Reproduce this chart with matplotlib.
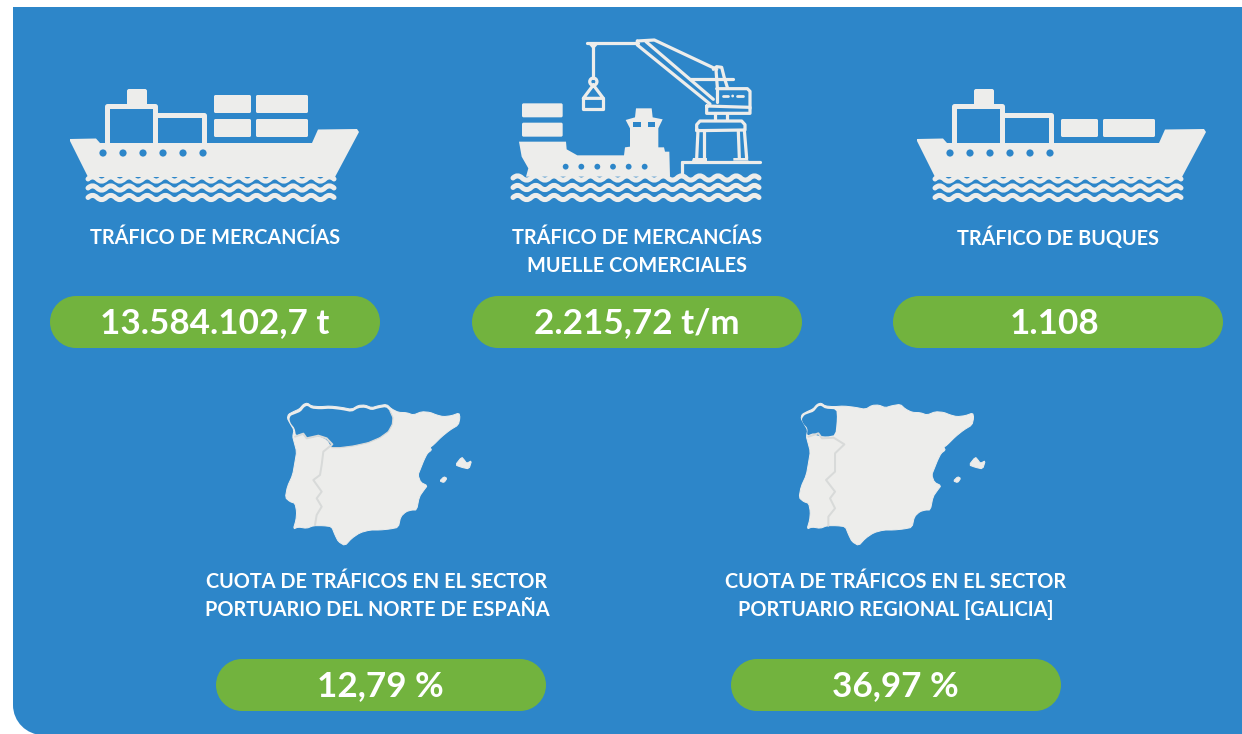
import matplotlib
matplotlib.use("Agg")
import matplotlib.pyplot as plt
from matplotlib.patches import PathPatch, Polygon, Circle, Rectangle
from matplotlib.path import Path

# ---- content ----
top_labels = [["TRÁFICO DE MERCANCÍAS"],
              ["TRÁFICO DE MERCANCÍAS", "MUELLE COMERCIALES"],
              ["TRÁFICO DE BUQUES"]]
top_values = ["13.584.102,7 t", "2.215,72 t/m", "1.108"]
bottom_labels = [["CUOTA DE TRÁFICOS EN EL SECTOR", "PORTUARIO DEL NORTE DE ESPAÑA"],
                 ["CUOTA DE TRÁFICOS EN EL SECTOR", "PORTUARIO REGIONAL [GALICIA]"]]
bottom_values = ["12,79 %", "36,97 %"]

BLUE = "#2d86c9"
GREEN = "#72b33e"
LIGHT = "#ededeb"
BORDER = "#d8dad9"
FONT = "Lato"

fig = plt.figure(figsize=(12.42, 7.34), dpi=100, facecolor="white")
ax = fig.add_axes([0, 0, 1, 1])
ax.set_xlim(0, 1242)
ax.set_ylim(734, 0)
ax.axis("off")
PX = 0.72


def chaikin(pts, rounds=1):
    for _ in range(rounds):
        out = []
        n = len(pts)
        for i in range(n):
            (x0, y0), (x1, y1) = pts[i], pts[(i + 1) % n]
            out.append((0.8 * x0 + 0.2 * x1, 0.8 * y0 + 0.2 * y1))
            out.append((0.2 * x0 + 0.8 * x1, 0.2 * y0 + 0.8 * y1))
        pts = out
    return pts


def stroke(pts, w=3.0, c=LIGHT, close=False, z=4):
    xs = [p[0] for p in pts]
    ys = [p[1] for p in pts]
    if close:
        xs.append(xs[0])
        ys.append(ys[0])
    ax.plot(xs, ys, color=c, lw=w * PX, solid_capstyle="round",
            solid_joinstyle="round", zorder=z)


def fill(pts, c=LIGHT, z=3, lw=0.0, ec=None):
    ax.add_patch(Polygon(pts, closed=True, fc=c, ec=ec or c, lw=lw * PX,
                         joinstyle="round", zorder=z))


def rrect(x0, y0, x1, y1, r, c=LIGHT, z=3):
    k = r * 0.448
    verts = [(x0 + r, y0), (x1 - r, y0),
             (x1 - k, y0), (x1, y0 + k), (x1, y0 + r),
             (x1, y1 - r),
             (x1, y1 - k), (x1 - k, y1), (x1 - r, y1),
             (x0 + r, y1),
             (x0 + k, y1), (x0, y1 - k), (x0, y1 - r),
             (x0, y0 + r),
             (x0, y0 + k), (x0 + k, y0), (x0 + r, y0)]
    C4 = Path.CURVE4
    codes = [Path.MOVETO, Path.LINETO, C4, C4, C4, Path.LINETO, C4, C4, C4,
             Path.LINETO, C4, C4, C4, Path.LINETO, C4, C4, C4]
    ax.add_patch(PathPatch(Path(verts, codes), fc=c, ec="none", zorder=z))


def wave(x0, x1, y, w=5.0, period=18.0, amp=2.2, z=5):
    verts = [(x0, y)]
    codes = [Path.MOVETO]
    n = int(round((x1 - x0) / (period / 2)))
    step = (x1 - x0) / n
    for i in range(n):
        sign = -1 if i % 2 == 0 else 1
        verts += [(x0 + (i + 0.5) * step, y + sign * amp * 2), (x0 + (i + 1) * step, y)]
        codes += [Path.CURVE3, Path.CURVE3]
    ax.add_patch(PathPatch(Path(verts, codes), fc="none", ec=LIGHT, lw=w * PX,
                           capstyle="round", joinstyle="round", zorder=z))


# ---- panel ----
L, T, R, B, rad = 13, 7, 1243, 735, 30
k = rad * 0.448
ax.add_patch(PathPatch(Path(
    [(L, T), (R, T), (R, B), (L + rad, B), (L + k, B), (L, B - k), (L, B - rad), (L, T)],
    [Path.MOVETO, Path.LINETO, Path.LINETO, Path.LINETO, Path.CURVE4, Path.CURVE4, Path.CURVE4,
     Path.CLOSEPOLY]),
    fc=BLUE, ec="none", zorder=1))


# ---- container ship ----
def ship(dx, containers):
    hull = [(70, 139), (96, 138.5), (100, 143), (312, 143), (318, 129.5), (357, 129),
            (359, 132), (335, 177), (88, 177), (70, 141)]
    fill([(x + dx, y) for x, y in hull])
    rrect(127 + dx, 89, 147 + dx, 106, 2)
    stroke([(106.5 + dx, 143), (106.5 + dx, 105.5), (154.5 + dx, 105.5), (154.5 + dx, 143)], 5)
    stroke([(156 + dx, 114.5), (204 + dx, 114.5), (204 + dx, 143)], 5)
    for x0, y0, x1, y1 in containers:
        rrect(x0, y0, x1, y1, 1.5)
    for x in (103, 123, 143, 163, 183, 203):
        ax.add_patch(Circle((x + dx, 153), 3.6, fc=BLUE, ec="none", zorder=6))
    for y in (179, 188, 197.5):
        wave(88 + dx, 334 + dx, y)


ship(0, [(214, 95, 251, 113), (256, 95, 308, 113), (214, 119, 251, 137), (256, 119, 308, 137)])
ship(847, [(1061, 119, 1098, 137), (1103, 119, 1155, 137)])


# ---- crane and ship ----
def z2(pts):
    return [(500 + x / 3, 30 + y / 3) for x, y in pts]


rrect(*z2([(66, 220)])[0], *z2([(188, 262)])[0], 1.5)
rrect(*z2([(66, 278)])[0], *z2([(188, 320)])[0], 1.5)
fill(z2([(57, 335), (198, 335), (200, 358), (232, 376), (372, 376), (375, 352), (390, 350),
         (390, 295), (377, 270), (405, 262), (408, 235), (455, 235), (458, 262), (488, 268),
         (475, 295), (475, 352), (492, 352), (495, 365), (508, 365), (510, 440), (78, 440),
         (85, 415), (65, 380)]))
for x, y0, x1, y1 in [(400, 276, 422, 290), (443, 276, 465, 290)]:
    ax.add_patch(Rectangle(z2([(x, y0)])[0], (x1 - x) / 3, (y1 - y0) / 3, fc=BLUE, ec="none", zorder=6))
for x in (197, 244, 292, 339, 386, 434):
    ax.add_patch(Circle(z2([(x, 410)])[0], 2.9, fc=BLUE, ec="none", zorder=6))

W = 3.2
stroke(z2([(262, 40), (415, 40)]), W)
fill(z2([(260, 36), (292, 36), (292, 45), (284, 54), (276, 54), (268, 45)]))
stroke(z2([(280, 50), (280, 145)]), W)
ax.add_patch(Circle(z2([(280, 155)])[0], 3.6, fc="none", ec=LIGHT, lw=W * PX, zorder=4))
stroke(z2([(280, 165), (250, 205), (310, 205), (280, 165)]), W)
stroke(z2([(250, 205), (250, 238), (310, 238), (310, 205)]), W)
stroke(z2([(412, 33), (463, 30), (650, 118)]), W)
stroke(z2([(412, 33), (412, 45), (630, 222)]), W)
stroke(z2([(438, 35), (640, 208)]), W)
stroke(z2([(640, 118), (650, 110), (665, 112), (672, 140), (682, 172)]), W)
stroke(z2([(648, 120), (652, 172)]), W)
stroke(z2([(570, 146), (698, 146)]), W)
stroke(z2([(650, 176), (742, 176), (750, 184), (750, 235)]), W)
stroke(z2([(650, 176), (650, 215)]), W)
stroke(z2([(620, 228), (750, 232), (750, 250), (620, 250), (620, 228)]), W)
for x0, x1 in [(668, 685), (712, 728)]:
    stroke(z2([(x0, 198), (x1, 198)]), 2.8)
ax.add_patch(Circle(z2([(698, 198)])[0], 1.4, fc=LIGHT, ec="none", zorder=4))
stroke(z2([(645, 250), (645, 270)]), W)
stroke(z2([(680, 250), (680, 270)]), W)
stroke(z2([(590, 300), (590, 284), (600, 273), (725, 273), (735, 284), (735, 300), (590, 302)]), W)
stroke(z2([(594, 300), (590, 385)]), W)
stroke(z2([(612, 304), (612, 385)]), W)
stroke(z2([(715, 304), (718, 385)]), W)
stroke(z2([(733, 300), (740, 385)]), W)
fill(z2([(578, 384), (620, 384), (620, 392), (575, 392)]))
fill(z2([(700, 384), (742, 384), (746, 392), (700, 392)]))
stroke(z2([(547, 395), (780, 395)]), W)
stroke(z2([(547, 395), (547, 437)]), W)
for y in (178, 187.5, 197.5):
    wave(513, 759, y)

# ---- Iberia maps ----
iberia = [(52, 70), (55, 58), (70, 50), (88, 42), (100, 28), (112, 24), (125, 33), (150, 35), (180, 33),
          (215, 37), (245, 43), (265, 31), (285, 30), (305, 38), (325, 32), (350, 28), (365, 42),
          (385, 52), (410, 53), (430, 60), (455, 50), (480, 52), (500, 60), (520, 65), (545, 62),
          (567, 54), (570, 68), (565, 90), (540, 105), (515, 125), (490, 150), (480, 157), (485, 165),
          (472, 175), (462, 195), (452, 220), (444, 240), (452, 262), (472, 272), (462, 285),
          (448, 305), (440, 345), (425, 345), (408, 350), (392, 365), (385, 397), (360, 402),
          (330, 405), (300, 405), (270, 413), (245, 430), (225, 452), (205, 440), (195, 420),
          (185, 395), (160, 392), (130, 392), (110, 400), (85, 396), (70, 402), (78, 375), (80, 350),
          (75, 325), (60, 320), (46, 308), (52, 275), (68, 240), (75, 200), (80, 170), (72, 140),
          (68, 125), (72, 105), (60, 85)]
mallorca = [(556, 210), (575, 186), (583, 195), (590, 205), (605, 197), (597, 222), (575, 217)]
ibiza = [(509, 258), (522, 245), (531, 250), (522, 263)]
north_hole = [(58, 72), (62, 62), (75, 57), (92, 50), (103, 36), (112, 32), (125, 41), (150, 43),
              (180, 41), (215, 45), (245, 51), (265, 39), (285, 38), (305, 46), (325, 40), (348, 36),
              (360, 48), (369, 68), (367, 88), (355, 110), (330, 128), (295, 143), (250, 153),
              (210, 158), (185, 158), (172, 135), (145, 122), (125, 128), (108, 128), (97, 115),
              (78, 122), (74, 100), (62, 85)]
north_border = [(75, 125), (100, 116), (110, 130), (145, 122), (170, 130), (187, 148), (160, 170),
                (155, 210), (150, 240), (130, 255), (155, 290), (140, 310), (155, 335), (140, 360),
                (135, 390)]
north_edge = [(360, 48), (369, 68), (367, 88), (355, 110), (330, 128), (295, 143), (250, 153),
              (210, 158), (185, 158)]
galicia_hole = [(54, 72), (62, 60), (75, 55), (90, 50), (103, 34), (112, 32), (125, 41), (158, 43),
                (160, 70), (155, 120), (130, 125), (100, 122), (90, 114), (70, 122), (72, 100),
                (58, 85)]
galicia_border = [(74, 125), (104, 115), (115, 130), (150, 128), (182, 148), (154, 175), (154, 230),
                  (127, 255), (154, 290), (139, 310), (154, 340), (134, 365), (134, 392)]


def iberian_map(ox, hole, border, edge=None):
    T_ = lambda pts: [(ox + x / 3, 395 + y / 3) for x, y in pts]
    fill(chaikin(T_(iberia)), lw=1.0)
    fill(chaikin(T_(mallorca)), lw=1.0)
    fill(chaikin(T_(ibiza)), lw=1.0)
    fill(chaikin(T_(hole)), c=BLUE, z=4)
    stroke(T_(border), 2.0, BORDER, z=5)
    if edge:
        stroke(T_(edge), 1.2, BORDER, z=5)


iberian_map(270, north_hole, north_border, north_edge)
iberian_map(783.7, galicia_hole, galicia_border)

# ---- pills and text ----
pill_h = 52
value_cx = [214.5, 637, 1054, 380.5, 895.5]
for (x0, y0), cx, val in zip([(50, 296), (472, 296), (893, 296), (216, 659), (731, 659)],
                             value_cx, top_values + bottom_values):
    rrect(x0, y0, x0 + 330, y0 + pill_h, 26, c=GREEN, z=3)
    ax.text(cx, y0 + 37.5, val, ha="center", va="baseline", color="white",
            fontsize=25.2, fontweight="bold", family=FONT, zorder=7)

for cx, lines in zip([215, 637, 1058], top_labels):
    for i, line in enumerate(lines):
        ax.text(cx, 244.5 + i * 28, line, ha="center", va="baseline", color="white",
                fontsize=14.3, fontweight="bold", family=FONT, zorder=7)
for cx, lines in zip([377, 896], bottom_labels):
    for i, line in enumerate(lines):
        ax.text(cx, 588.5 + i * 28, line, ha="center", va="baseline", color="white",
                fontsize=14.3, fontweight="bold", family=FONT, zorder=7)

fig.savefig("out.png", dpi=100, facecolor="white")
